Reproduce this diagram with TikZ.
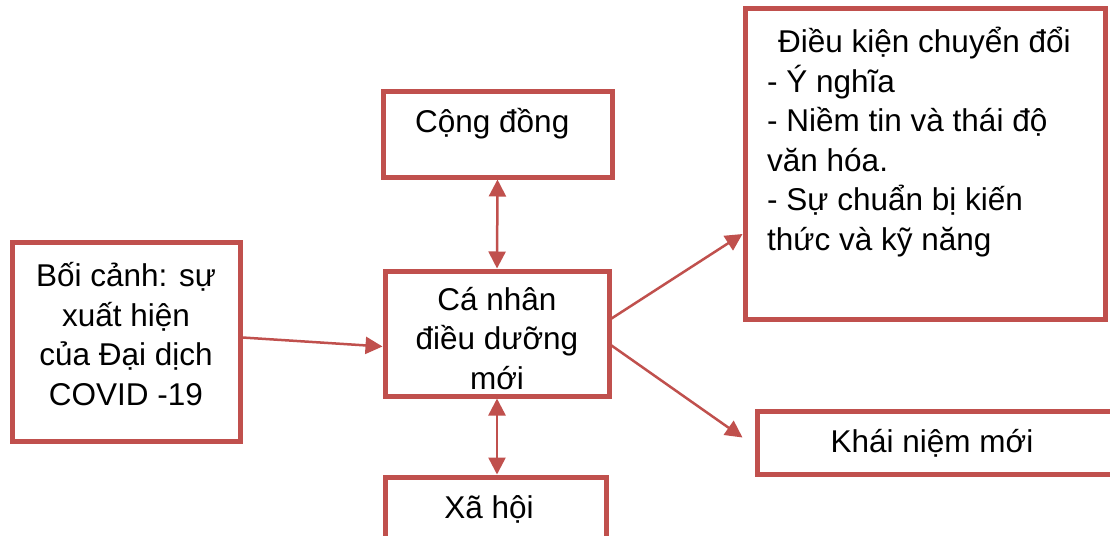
\documentclass[tikz,border=0pt]{standalone}
\usepackage{fontspec}
\setmainfont{Liberation Sans}
\usepackage{xcolor}
\usetikzlibrary{arrows.meta,positioning}
\definecolor{boxred}{HTML}{C0504D}

\begin{document}
\begin{tikzpicture}[x=1pt,y=-1pt,
    box/.style={draw=boxred,line width=5pt,fill=white,inner sep=0pt},
    link/.style={draw=boxred,line width=2.5pt,-{Triangle[length=17pt,width=17pt]}},
    bothways/.style={link,{Triangle[length=17pt,width=17pt]}-{Triangle[length=17pt,width=17pt]}},
    txt/.style={font=\fontsize{31.5}{39.5}\selectfont,inner sep=0pt}]
    \useasboundingbox (0,0) rectangle (1110,535);
    \clip (0,0) rectangle (1110,535);

    % Boxes
    \node[box,minimum width=228pt,minimum height=199pt] (boicanh) at (126,341.5) {};
    \node[box,minimum width=229pt,minimum height=86pt] (congdong) at (497.5,134) {};
    \node[box,minimum width=224pt,minimum height=125pt] (canhan) at (497,333.5) {};
    \node[box,minimum width=221pt,minimum height=93pt] (xahoi) at (495.5,523.5) {};
    \node[box,minimum width=360pt,minimum height=310pt] (dieukien) at (925,164) {};
    \node[box,minimum width=373pt,minimum height=63pt] (khainiem) at (943.5,442.5) {};

    % Texts (base = last line)
    \node[txt,anchor=base,align=center] (boicanhtext) at (126,405)
        {Bối cảnh: sự\\xuất hiện\\của Đại dịch\\COVID -19};
    \node[txt,anchor=base west] (congdongtext) at (415,132) {Cộng đồng};
    \node[txt,anchor=base,align=center] (canhantext) at (497,389)
        {Cá nhân\\điều dưỡng\\mới};
    \node[txt,anchor=base] (xahoitext) at (489,518) {Xã hội};
    \node[txt,anchor=base west,align=left] (dieukientext) at (767,250)
        {\hspace*{11pt}Điều kiện chuyển đổi\\- Ý nghĩa\\- Niềm tin và thái độ\\văn hóa.\\- Sự chuẩn bị kiến\\thức và kỹ năng};
    \node[txt,anchor=base] (khainiemtext) at (932,452) {Khái niệm mới};

    % Arrows
    \draw[link] ([yshift=4pt]boicanh.east) -- ([yshift=-13pt]canhan.west);
    \draw[bothways] (congdong.south) -- (canhan.north);
    \draw[bothways] (canhan.south) -- (canhan.south |- xahoi.north);
    \draw[link] ([yshift=15pt]canhan.east) -- ([yshift=-70pt]dieukien.west);
    \draw[link] ([yshift=-12pt]canhan.east) -- ([xshift=-12pt,yshift=5pt]khainiem.west);
\end{tikzpicture}
\end{document}
